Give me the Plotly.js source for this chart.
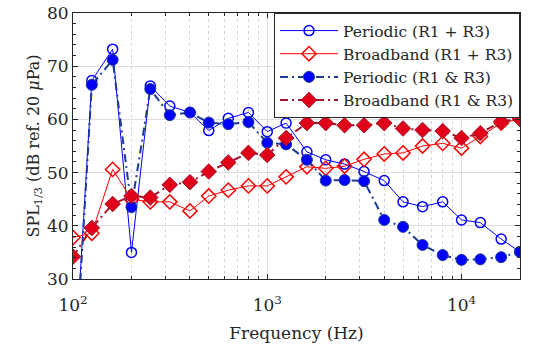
<!DOCTYPE html>
<html>
<head>
<meta charset="utf-8">
<script src="https://cdn.plot.ly/plotly-3.0.1.min.js"></script>
<style>html,body{margin:0;padding:0;background:#fff;}#chart{width:544px;height:346px;}</style>
</head>
<body>
<div id="chart"></div>
<script>
const freq = [100,125,160,200,250,315,400,500,630,800,1000,1250,1600,2000,2500,3150,4000,5000,6300,8000,10000,12500,16000,20000];
const periodicSum = [8,67.3,73.2,35.0,66.3,62.5,61.3,57.9,60.2,61.3,57.7,59.3,53.9,52.4,51.6,50.2,48.5,44.5,43.6,44.5,41.1,40.6,37.5,35.1];
const broadbandSum = [37.8,38.6,50.6,45.0,44.5,44.5,42.8,45.6,46.7,47.5,47.5,49.2,51.1,50.8,51.2,52.5,53.5,53.7,55.0,55.5,54.6,56.8,59.3,60.1];
const periodicAnd = [6,66.5,71.2,43.5,65.7,60.8,61.3,59.4,59.1,59.5,55.6,55.3,52.4,48.5,48.6,48.4,41.1,39.8,36.4,34.5,33.6,33.7,34.1,35.1];
const broadbandAnd = [34.2,39.6,44.1,45.6,45.3,47.7,48.2,50.2,51.9,53.7,53.3,56.5,59.3,59.3,58.9,58.9,59.3,58.3,58.0,57.8,56.5,57.4,59.6,60.1];
const names = ['Periodic (R1 + R3)','Broadband (R1 + R3)','Periodic (R1 &amp; R3)','Broadband (R1 &amp; R3)'];
const xTickVals = [100,1000,10000];
const xTickText = ['10<sup>2</sup>','10<sup>3</sup>','10<sup>4</sup>'];
const xMinorVals = [200,300,400,500,600,700,800,900,2000,3000,4000,5000,6000,7000,8000,9000];
const serif = '"DejaVu Serif", "Liberation Serif", serif';

const traces = [
  {x:freq, y:periodicSum, name:names[0], mode:'lines+markers', type:'scatter',
   line:{color:'#0000ff', width:1},
   marker:{symbol:'circle-open', size:10, color:'#0000ff', line:{width:1.5}}},
  {x:freq, y:broadbandSum, name:names[1], mode:'lines+markers', type:'scatter',
   line:{color:'#ff0000', width:1},
   marker:{symbol:'diamond-open', size:11, color:'#ff0000', line:{width:1.5}}},
  {x:freq, y:periodicAnd, name:names[2], mode:'lines+markers', type:'scatter',
   line:{color:'#1f3a93', width:2, dash:'8px,4px,2px,4px'},
   marker:{symbol:'circle', size:11, color:'#0000ff', line:{color:'#1f3a93', width:1}}},
  {x:freq, y:broadbandAnd, name:names[3], mode:'lines+markers', type:'scatter',
   line:{color:'#a0142e', width:2, dash:'8px,4px,2px,4px'},
   marker:{symbol:'diamond', size:12, color:'#e0001a', line:{color:'#a0142e', width:1}}}
];

const layout = {
  width:544, height:346,
  margin:{l:73, r:24, t:13, b:67},
  paper_bgcolor:'#fff', plot_bgcolor:'#fff',
  font:{family:serif, size:17, color:'#262626'},
  showlegend:true,
  legend:{x:1, xanchor:'right', y:1, yanchor:'top', bgcolor:'#fff', bordercolor:'#262626', borderwidth:1,
          font:{family:serif, size:15.5, color:'#262626'}, itemwidth:58, tracegroupgap:0},
  xaxis:{type:'log', range:[2, Math.log10(20000)], tickmode:'array', tickvals:xTickVals, ticktext:xTickText,
         ticks:'inside', ticklen:5, tickcolor:'#262626', showline:true, linecolor:'#262626', linewidth:1, mirror:'ticks',
         showgrid:true, gridcolor:'#dedede', zeroline:false, tickfont:{family:serif, size:17}, ticklabelstandoff:11,
         minor:{tickmode:'array', tickvals:xMinorVals, ticks:'inside', ticklen:3, tickcolor:'#262626',
                showgrid:true, gridcolor:'#d4d4d4', griddash:'dot', gridwidth:1},
         title:{text:'Frequency (Hz)', font:{family:serif, size:17}, standoff:12}},
  yaxis:{range:[30,80], dtick:10, tick0:30, ticks:'inside', ticklen:5, tickcolor:'#262626',
         showline:true, linecolor:'#262626', linewidth:1, mirror:'ticks', showgrid:true, gridcolor:'#dedede', zeroline:false,
         tickfont:{family:serif, size:17},
         minor:{dtick:2, ticks:'inside', ticklen:3, tickcolor:'#262626', showgrid:false},
         title:{text:'SPL<sub>1/3</sub> (dB ref. 20 <i>μ</i>Pa)', font:{family:serif, size:16}, standoff:3}}
};
Plotly.newPlot('chart', traces, layout, {displayModeBar:false, staticPlot:true});
</script>
</body>
</html>
